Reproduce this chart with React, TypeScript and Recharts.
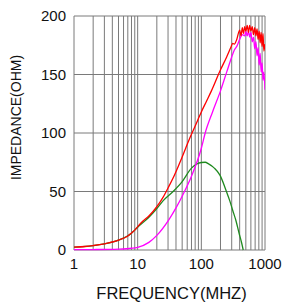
import { LineChart, Line, XAxis, YAxis, CartesianGrid } from "recharts";

// grid lines of the log axis; only decades get a label
const FREQ_TICKS = [
  1, 2, 3, 4, 5, 6, 7, 8, 9, 10, 20, 30, 40, 50, 60, 70, 80, 90, 100, 200, 300, 400, 500, 600, 700, 800,
  900, 1000,
];
const FREQ_LABELS = [1, 10, 100, 1000];
const IMP_TICKS = [0, 50, 100, 150, 200];

// |Z| (red)
const Z_FREQ = [
  1, 1.5, 2, 3, 5, 7, 8, 9, 10, 12, 15, 20, 25, 30, 36, 43, 50, 64, 75, 87, 100, 120, 144, 200, 250, 290,
  310, 330, 360, 400, 420, 440, 460, 480, 500, 525, 550, 575, 600, 630, 660, 690, 720, 750, 780, 810, 840,
  870, 900, 930, 960, 1000,
];
const Z_OHM = [
  2.5, 3, 3.8, 5.3, 8.5, 12, 14.5, 17, 20, 24.5, 29, 37, 45, 53, 61.5, 71, 79.5, 94, 102.5, 110.5, 118, 127,
  136, 154, 165, 173, 176.5, 176, 180, 188, 183, 190, 185, 191, 187, 192, 186, 192, 187, 191, 184, 190, 183,
  189, 180, 187, 177, 186, 174, 185, 170, 176,
];

// R (magenta)
const R_FREQ = [
  1, 2, 5, 8, 10, 15, 20, 31, 40, 50, 70, 100, 115, 150, 200, 250, 300, 330, 360, 400, 440, 480, 500, 525,
  550, 575, 600, 630, 660, 690, 720, 750, 780, 810, 840, 870, 900, 930, 960, 1000,
];
const R_OHM = [
  0.3, 0.4, 0.8, 1.5, 2.3, 6.5, 12.5, 26, 36, 46, 63, 87, 100, 118, 136, 152, 165, 171, 174, 180, 184, 183,
  187, 183, 187, 182, 186, 178, 182, 172, 178, 166, 173, 158, 168, 152, 160, 145, 152, 137,
];

// X (green)
const X_FREQ = [
  1, 2, 3, 5, 8, 10, 15, 20, 25, 36, 50, 70, 85, 100, 115, 130, 160, 196, 248, 280, 309, 350, 391, 430, 455,
];
const X_OHM = [
  2.4, 3.7, 5.2, 8.4, 14.3, 19.5, 28, 35.5, 42, 50, 58.5, 70, 73.5, 74.8, 75, 73.6, 70, 64, 50, 42, 34.4,
  25, 14.5, 6, 0,
];

const toRows = (f: number[], v: number[]) => f.map((x, i) => ({ f: x, v: v[i] }));

const FONT = "'Liberation Sans', Arial, sans-serif";

export default function App() {
  return (
    <div style={{ position: "absolute", left: 0, top: 0 }}>
      <LineChart width={283} height={302} margin={{ top: 16, right: 18, bottom: 0, left: 0 }}>
        <CartesianGrid stroke="#7a7a7a" strokeWidth={1} />
        <XAxis
          dataKey="f"
          type="number"
          scale="log"
          domain={[1, 1000]}
          ticks={FREQ_TICKS}
          interval={0}
          allowDataOverflow
          height={52}
          axisLine={false}
          tickLine={false}
          tickSize={0}
          tickMargin={8}
          tick={{ fontSize: 15, fill: "#111", fontFamily: FONT }}
          tickFormatter={(v: number) => (FREQ_LABELS.includes(v) ? String(v) : "")}
          label={{
            value: "FREQUENCY(MHZ)",
            position: "insideBottom",
            offset: 3,
            dx: 2,
            fontSize: 16.5,
            fill: "#111",
            fontFamily: FONT,
          }}
        />
        <YAxis
          type="number"
          domain={[0, 200]}
          ticks={IMP_TICKS}
          interval={0}
          width={74}
          axisLine={false}
          tickLine={false}
          tickSize={0}
          tickMargin={8}
          tick={{ fontSize: 15, fill: "#111", fontFamily: FONT }}
          label={() => (
            <text
              x={16}
              y={117.5}
              transform="rotate(-90, 16, 117.5)"
              textAnchor="middle"
              dominantBaseline="central"
              fontSize={14}
              fill="#111"
              fontFamily={FONT}
            >
              IMPEDANCE(OHM)
            </text>
          )}
        />
        <Line
          data={toRows(X_FREQ, X_OHM)}
          dataKey="v"
          stroke="#1f8a1f"
          strokeWidth={1.3}
          dot={false}
          type="monotone"
          isAnimationActive={false}
        />
        <Line
          data={toRows(R_FREQ, R_OHM)}
          dataKey="v"
          stroke="#ff00ff"
          strokeWidth={1.3}
          dot={false}
          type="monotone"
          isAnimationActive={false}
        />
        <Line
          data={toRows(Z_FREQ, Z_OHM)}
          dataKey="v"
          stroke="#ff0000"
          strokeWidth={1.3}
          dot={false}
          type="monotone"
          isAnimationActive={false}
        />
      </LineChart>
    </div>
  );
}
